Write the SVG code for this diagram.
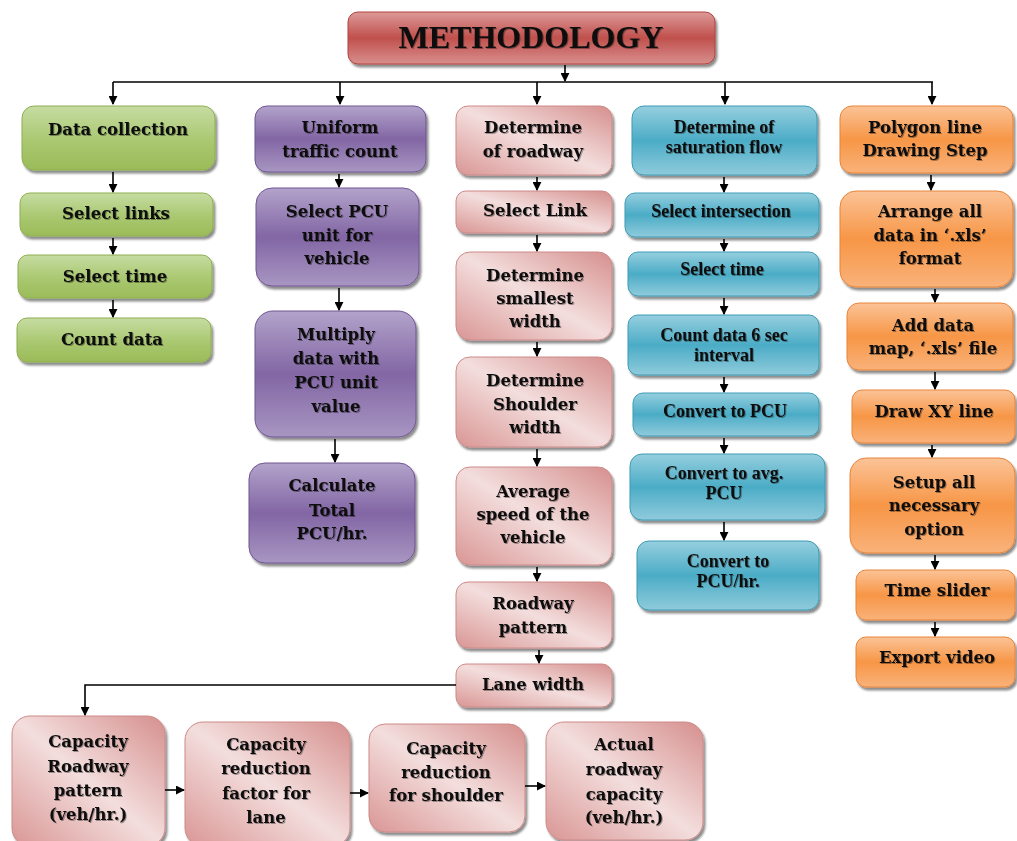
<svg xmlns="http://www.w3.org/2000/svg" width="1017" height="841" viewBox="0 0 1017 841">
<defs>
<linearGradient id="gHead" x1="0" y1="0" x2="0" y2="1"><stop offset="0" stop-color="#dc9a98"/><stop offset="0.5" stop-color="#c0504d"/><stop offset="1" stop-color="#d88f8d"/></linearGradient>
<linearGradient id="gGreen" x1="0" y1="0" x2="0" y2="1"><stop offset="0" stop-color="#c6dca2"/><stop offset="0.55" stop-color="#a9c870"/><stop offset="1" stop-color="#9bbb59"/></linearGradient>
<linearGradient id="gPurple" x1="0" y1="0" x2="0" y2="1"><stop offset="0" stop-color="#b3a3cb"/><stop offset="0.5" stop-color="#8266a4"/><stop offset="1" stop-color="#a896c2"/></linearGradient>
<linearGradient id="gPink" x1="1" y1="0" x2="0" y2="1"><stop offset="0" stop-color="#d58f8d"/><stop offset="0.5" stop-color="#f3dedd"/><stop offset="1" stop-color="#d99694"/></linearGradient>
<linearGradient id="gBlue" x1="0" y1="0" x2="0" y2="1"><stop offset="0" stop-color="#96cfdf"/><stop offset="0.5" stop-color="#4bacc6"/><stop offset="1" stop-color="#8fcbdc"/></linearGradient>
<linearGradient id="gOrange" x1="0" y1="0" x2="0" y2="1"><stop offset="0" stop-color="#fbc397"/><stop offset="0.5" stop-color="#f79646"/><stop offset="1" stop-color="#f9b27a"/></linearGradient>
<filter id="sh" x="-10%" y="-10%" width="125%" height="130%"><feDropShadow dx="2" dy="3" stdDeviation="1.2" flood-color="#000" flood-opacity="0.45"/></filter>
<filter id="tsh" x="-5%" y="-20%" width="110%" height="150%"><feDropShadow dx="1" dy="1" stdDeviation="0.6" flood-color="#000" flood-opacity="0.35"/></filter>
<marker id="ah" viewBox="0 0 10 10" refX="9" refY="5" markerWidth="9" markerHeight="9" markerUnits="userSpaceOnUse" orient="auto"><path d="M0,0 L10,5 L0,10 z" fill="#000"/></marker>
</defs>
<style>
.box{filter:url(#sh);}
.hd{fill:url(#gHead);stroke:#b2403d;stroke-width:1;}
.gr{fill:url(#gGreen);stroke:#8eae4f;stroke-width:1;}
.pu{fill:url(#gPurple);stroke:#6f5490;stroke-width:1;}
.pk{fill:url(#gPink);stroke:#cc8a88;stroke-width:1;}
.bl{fill:url(#gBlue);stroke:#3d9bb5;stroke-width:1;}
.or{fill:url(#gOrange);stroke:#e8843a;stroke-width:1;}
text{font-family:"DejaVu Serif","Liberation Serif",serif;font-weight:bold;font-size:16.5px;fill:#111;text-anchor:middle;filter:url(#tsh);}
.sm{font-family:"Liberation Serif","Times New Roman",serif;font-size:18px;}
.title{font-family:"Liberation Serif","Times New Roman",serif;font-size:32px;}
.conn line,.conn polyline{stroke:#000;stroke-width:1.6;fill:none;marker-end:url(#ah);}
.conn .nm{marker-end:none;}
</style>

<g id="header"><rect class="box hd" x="348" y="12" width="367" height="52" rx="10"/><text class="title" x="531" y="48">METHODOLOGY</text></g>

<g id="data-collection"><rect class="box gr" x="22" y="106" width="193" height="64" rx="12"/><text x="118" y="135">Data collection</text></g>
<g id="select-links"><rect class="box gr" x="20" y="193" width="193" height="43" rx="10"/><text x="116" y="219">Select links</text></g>
<g id="select-time-1"><rect class="box gr" x="18" y="255" width="194" height="43" rx="10"/><text x="115" y="282">Select time</text></g>
<g id="count-data"><rect class="box gr" x="17" y="318" width="194" height="44" rx="10"/><text x="112" y="345">Count data</text></g>

<g id="uniform-traffic"><rect class="box pu" x="255" y="106" width="171" height="66" rx="12"/><text x="340" y="133">Uniform</text><text x="340" y="157">traffic count</text></g>
<g id="select-pcu"><rect class="box pu" x="256" y="188" width="163" height="98" rx="16"/><text x="337" y="217">Select PCU</text><text x="337" y="241">unit for</text><text x="337" y="264">vehicle</text></g>
<g id="multiply"><rect class="box pu" x="255" y="311" width="161" height="126" rx="18"/><text x="336" y="340">Multiply</text><text x="336" y="364">data with</text><text x="336" y="388">PCU unit</text><text x="336" y="412">value</text></g>
<g id="calc-total"><rect class="box pu" x="249" y="463" width="166" height="100" rx="16"/><text x="332" y="491">Calculate</text><text x="332" y="516">Total</text><text x="332" y="539">PCU/hr.</text></g>

<g id="determine-roadway"><rect class="box pk" x="456" y="106" width="156" height="69" rx="12"/><text x="533" y="133">Determine</text><text x="533" y="157">of roadway</text></g>
<g id="select-link"><rect class="box pk" x="456" y="191" width="156" height="42" rx="10"/><text x="535" y="216">Select Link</text></g>
<g id="smallest-width"><rect class="box pk" x="456" y="252" width="156" height="88" rx="14"/><text x="535" y="281">Determine</text><text x="535" y="304">smallest</text><text x="535" y="327">width</text></g>
<g id="shoulder-width"><rect class="box pk" x="456" y="357" width="156" height="90" rx="14"/><text x="535" y="386">Determine</text><text x="535" y="410">Shoulder</text><text x="535" y="433">width</text></g>
<g id="average-speed"><rect class="box pk" x="456" y="467" width="156" height="98" rx="14"/><text x="533" y="497">Average</text><text x="533" y="520">speed of the</text><text x="533" y="543">vehicle</text></g>
<g id="roadway-pattern"><rect class="box pk" x="456" y="582" width="156" height="66" rx="12"/><text x="533" y="609">Roadway</text><text x="533" y="633">pattern</text></g>
<g id="lane-width"><rect class="box pk" x="456" y="664" width="156" height="43" rx="10"/><text x="533" y="690">Lane width</text></g>

<g id="capacity-roadway"><rect class="box pk" x="12" y="716" width="153" height="130" rx="18"/><text x="88" y="747">Capacity</text><text x="88" y="772">Roadway</text><text x="88" y="796">pattern</text><text x="88" y="820">(veh/hr.)</text></g>
<g id="capacity-lane"><rect class="box pk" x="185" y="722" width="165" height="124" rx="18"/><text x="266" y="750">Capacity</text><text x="266" y="774">reduction</text><text x="266" y="799">factor for</text><text x="266" y="823">lane</text></g>
<g id="capacity-shoulder"><rect class="box pk" x="369" y="724" width="156" height="108" rx="16"/><text x="446" y="754">Capacity</text><text x="446" y="778">reduction</text><text x="446" y="801">for shoulder</text></g>
<g id="actual-capacity"><rect class="box pk" x="546" y="722" width="157" height="118" rx="18"/><text x="624" y="750">Actual</text><text x="624" y="775">roadway</text><text x="624" y="800">capacity</text><text x="624" y="823">(veh/hr.)</text></g>

<g id="saturation-flow"><rect class="box bl" x="632" y="106" width="185" height="69" rx="12"/><text class="sm" x="724" y="133">Determine of</text><text class="sm" x="724" y="153">saturation flow</text></g>
<g id="select-intersection"><rect class="box bl" x="625" y="193" width="194" height="44" rx="10"/><text class="sm" x="721" y="217">Select intersection</text></g>
<g id="select-time-2"><rect class="box bl" x="628" y="252" width="191" height="44" rx="10"/><text class="sm" x="722" y="275">Select time</text></g>
<g id="count-6sec"><rect class="box bl" x="628" y="315" width="191" height="60" rx="10"/><text class="sm" x="724" y="341">Count data 6 sec</text><text class="sm" x="724" y="361">interval</text></g>
<g id="convert-pcu"><rect class="box bl" x="633" y="393" width="186" height="43" rx="10"/><text class="sm" x="725" y="417">Convert to PCU</text></g>
<g id="convert-avg"><rect class="box bl" x="630" y="454" width="195" height="66" rx="12"/><text class="sm" x="724" y="479">Convert to avg.</text><text class="sm" x="724" y="499">PCU</text></g>
<g id="convert-hr"><rect class="box bl" x="637" y="541" width="182" height="69" rx="12"/><text class="sm" x="728" y="567">Convert to</text><text class="sm" x="728" y="587">PCU/hr.</text></g>

<g id="polygon-line"><rect class="box or" x="840" y="106" width="173" height="67" rx="12"/><text x="925" y="133">Polygon line</text><text x="925" y="156">Drawing Step</text></g>
<g id="arrange-data"><rect class="box or" x="840" y="191" width="173" height="96" rx="16"/><text x="930" y="217">Arrange all</text><text x="930" y="241">data in ‘.xls’</text><text x="930" y="264">format</text></g>
<g id="add-data-map"><rect class="box or" x="847" y="303" width="166" height="67" rx="12"/><text x="933" y="331">Add data</text><text x="933" y="354">map, ‘.xls’ file</text></g>
<g id="draw-xy"><rect class="box or" x="852" y="390" width="163" height="53" rx="10"/><text x="934" y="417">Draw XY line</text></g>
<g id="setup-options"><rect class="box or" x="850" y="458" width="165" height="95" rx="16"/><text x="934" y="488">Setup all</text><text x="934" y="511">necessary</text><text x="934" y="535">option</text></g>
<g id="time-slider"><rect class="box or" x="856" y="570" width="159" height="50" rx="10"/><text x="937" y="596">Time slider</text></g>
<g id="export-video"><rect class="box or" x="856" y="637" width="159" height="50" rx="10"/><text x="937" y="663">Export video</text></g>

<g id="connectors" class="conn">
<line x1="565" y1="65" x2="565" y2="81"/>
<line class="nm" x1="113" y1="82" x2="933" y2="82"/>
<line x1="113" y1="82" x2="113" y2="104"/>
<line x1="340" y1="82" x2="340" y2="104"/>
<line x1="537" y1="82" x2="537" y2="104"/>
<line x1="725" y1="82" x2="725" y2="104"/>
<line x1="932" y1="82" x2="932" y2="104"/>

<line x1="113" y1="172" x2="113" y2="192"/>
<line x1="113" y1="238" x2="113" y2="254"/>
<line x1="113" y1="300" x2="113" y2="317"/>

<line x1="339" y1="174" x2="339" y2="187"/>
<line x1="339" y1="288" x2="339" y2="310"/>
<line x1="335" y1="439" x2="335" y2="462"/>

<line x1="537" y1="177" x2="537" y2="190"/>
<line x1="537" y1="235" x2="537" y2="251"/>
<line x1="537" y1="342" x2="537" y2="356"/>
<line x1="537" y1="449" x2="537" y2="466"/>
<line x1="537" y1="567" x2="537" y2="581"/>
<line x1="539" y1="650" x2="539" y2="663"/>
<polyline points="456,685 85,685 85,715"/>

<line x1="165" y1="790" x2="184" y2="790"/>
<line x1="350" y1="793" x2="368" y2="793"/>
<line x1="525" y1="786" x2="545" y2="786"/>

<line x1="724" y1="177" x2="724" y2="192"/>
<line x1="724" y1="239" x2="724" y2="251"/>
<line x1="724" y1="298" x2="724" y2="314"/>
<line x1="724" y1="377" x2="724" y2="392"/>
<line x1="724" y1="438" x2="724" y2="453"/>
<line x1="724" y1="522" x2="724" y2="540"/>

<line x1="931" y1="175" x2="931" y2="190"/>
<line x1="935" y1="289" x2="935" y2="302"/>
<line x1="935" y1="372" x2="935" y2="389"/>
<line x1="932" y1="445" x2="932" y2="457"/>
<line x1="935" y1="555" x2="935" y2="569"/>
<line x1="935" y1="622" x2="935" y2="636"/>
</g>
</svg>
